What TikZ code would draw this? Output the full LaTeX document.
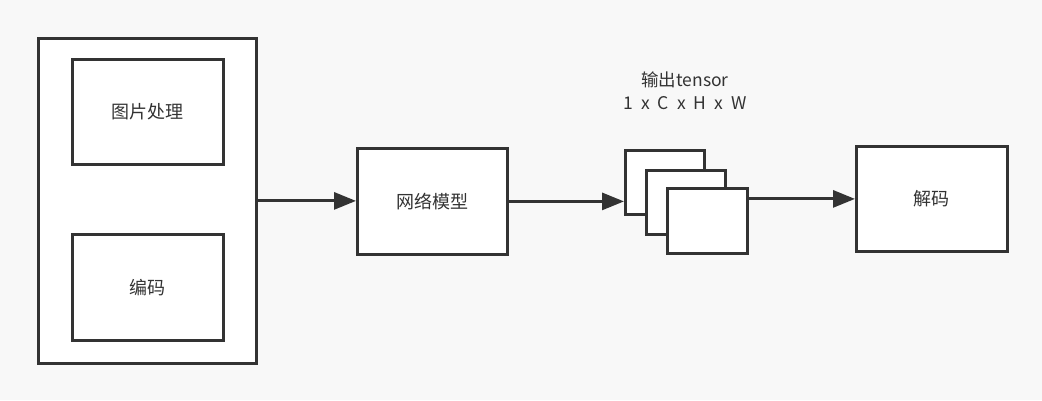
\documentclass[tikz,border=0pt]{standalone}
\usepackage{fontspec}
\setmainfont{Noto Sans CJK SC}
\usetikzlibrary{arrows.meta}
\definecolor{bg}{HTML}{F8F8F8}
\definecolor{ink}{HTML}{333333}
\tikzset{
  blk/.style={draw=ink, line width=2.8pt, fill=white, rectangle, inner sep=0pt, anchor=north west, text=ink, font=\fontsize{18}{21}\selectfont},
  conn/.style={draw=ink, line width=3pt, -{Triangle[length=22pt,width=17pt]}},
  lbl/.style={text=ink, font=\fontsize{17.5}{21}\selectfont, inner sep=0pt}
}
\begin{document}
\begin{tikzpicture}[x=1pt,y=-1pt]
\fill[bg] (0,0) rectangle (1042,400);
\useasboundingbox (0,0) rectangle (1042,400);
\node[blk, minimum width=218pt, minimum height=325pt] (outer) at (37,37) {};
\node[blk, minimum width=151pt, minimum height=105pt] (img) at (71,58) {图片处理};
\node[blk, minimum width=151pt, minimum height=106pt] (enc) at (71,233) {编码};
\node[blk, minimum width=150pt, minimum height=106pt] (net) at (356,147) {网络模型};
\node[blk, minimum width=79pt, minimum height=64pt] (t1) at (624,149) {};
\node[blk, minimum width=79pt, minimum height=64pt] (t2) at (645,169) {};
\node[blk, minimum width=80pt, minimum height=65pt] (t3) at (666,187) {};
\node[blk, minimum width=151pt, minimum height=105pt] (dec) at (855,145) {解码};
\node[lbl] (ttl) at (685,80) {输出tensor};
\node[lbl] (dim) at (685,103) {1\hspace{8pt}x\hspace{8pt}C\hspace{8pt}x\hspace{8pt}H\hspace{8pt}x\hspace{8pt}W};
\draw[conn] (outer.east) -- (outer.east -| net.west);
\draw[conn] (net.east) -- (net.east -| t1.west);
\draw[conn] (t3.east |- dec.west) -- (dec.west);
\end{tikzpicture}
\end{document}
